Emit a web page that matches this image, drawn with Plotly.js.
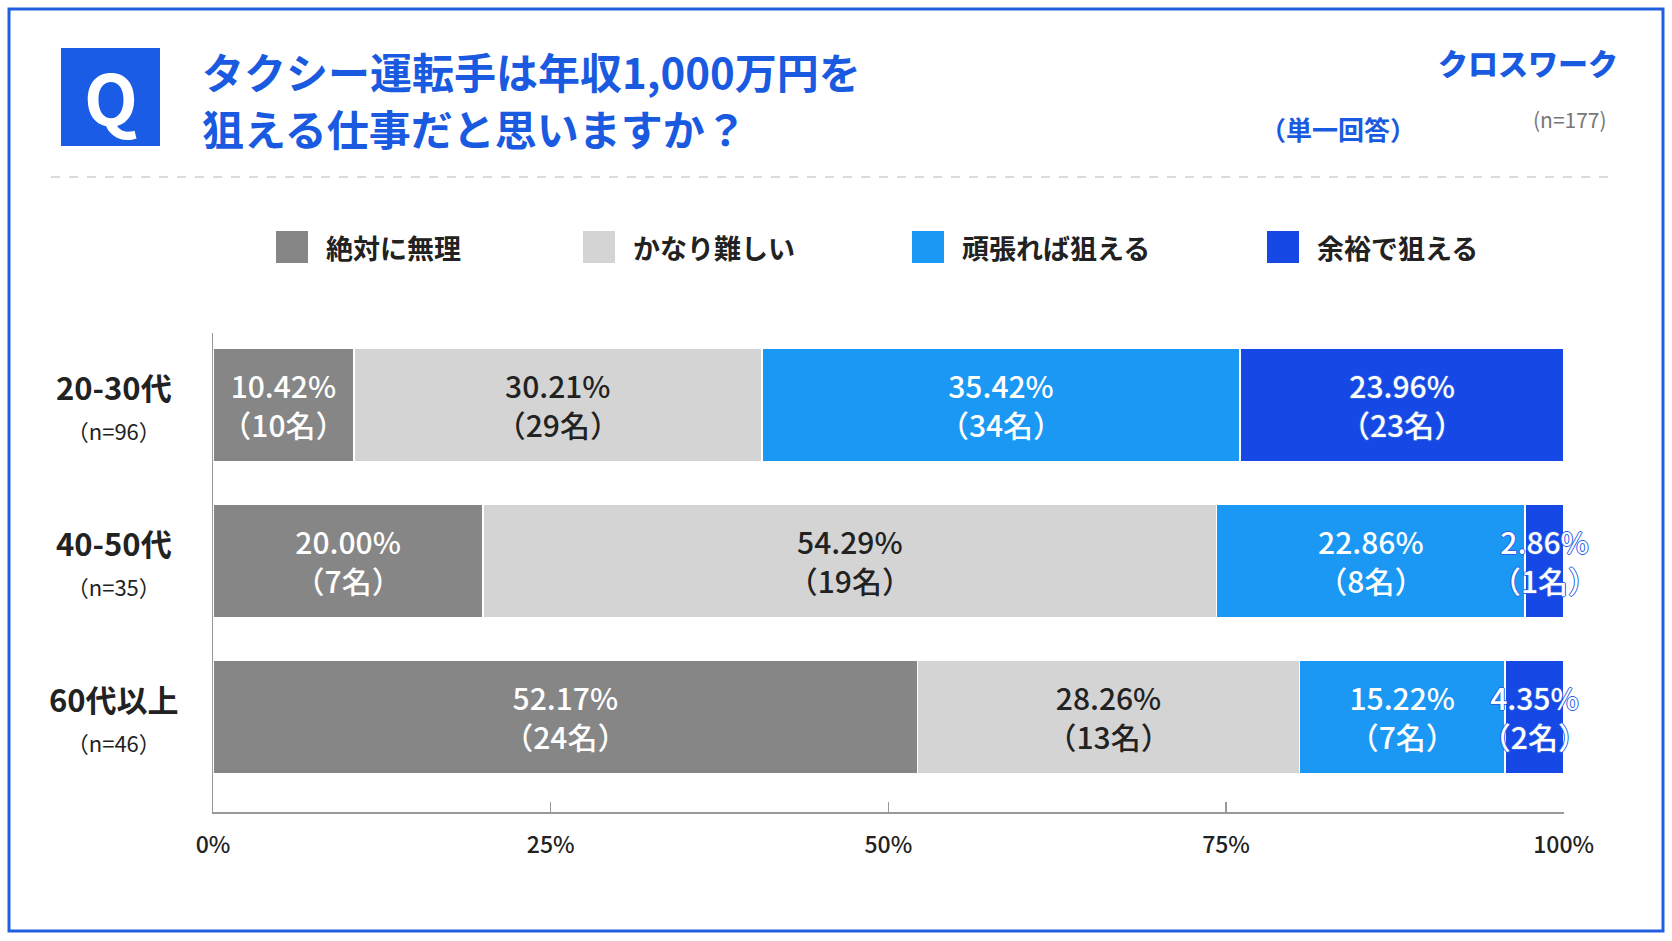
<!DOCTYPE html>
<html>
<head>
<meta charset="utf-8">
<script src="https://cdn.plot.ly/plotly-3.0.1.min.js"></script>
<style>
  html, body { margin: 0; padding: 0; background: #ffffff; }
  #chart { width: 1672px; height: 941px; }
</style>
</head>
<body>
<div id="chart"></div>
<script>
// ---- data ----
const categories = ['20-30代', '40-50代', '60代以上'];
const sampleN = [96, 35, 46];
const seriesNames = ['絶対に無理', 'かなり難しい', '頑張れば狙える', '余裕で狙える'];
const pctImpossible = [10.42, 20.00, 52.17];
const pctHard = [30.21, 54.29, 28.26];
const pctPossible = [35.42, 22.86, 15.22];
const pctEasy = [23.96, 2.86, 4.35];
const cntImpossible = [10, 7, 24];
const cntHard = [29, 19, 13];
const cntPossible = [34, 8, 7];
const cntEasy = [23, 1, 2];
const xTickVals = [0, 25, 50, 75, 100];
const xTickText = ['0%', '25%', '50%', '75%', '100%'];
const titleLines = ['タクシー運転手は年収1,000万円を', '狙える仕事だと思いますか？'];
const totalN = 177;

// ---- styling ----
const FONT = '"Noto Sans CJK JP", "Noto Sans", sans-serif';
const colors = ['#868686', '#d4d4d4', '#1b98f3', '#1548e4'];
const textColors = ['#ffffff', '#222222', '#ffffff', '#ffffff'];
const W = 1672, H = 941;
const M = {l: 213, r: 108, t: 333, b: 129};
const PW = W - M.l - M.r, PH = H - M.t - M.b;
const px = x => (x - M.l) / PW;
const py = y => (H - M.b - y) / PH;

const pctSeries = [pctImpossible, pctHard, pctPossible, pctEasy];
const cntSeries = [cntImpossible, cntHard, cntPossible, cntEasy];

const OUTLINE = '#2a5fe6';
const traces = seriesNames.map((name, i) => {
  const font = {family: FONT, size: 30, color: textColors[i], weight: 500};
  if (i === 3) font.shadow = '1px 0 0 ' + OUTLINE + ', -1px 0 0 ' + OUTLINE + ', 0 1px 0 ' + OUTLINE + ', 0 -1px 0 ' + OUTLINE;
  return {
    type: 'bar',
    orientation: 'h',
    name: name,
    y: categories,
    x: pctSeries[i],
    text: pctSeries[i].map((v, k) => v.toFixed(2) + '%<br>（' + cntSeries[i][k] + '名）'),
    textposition: 'inside',
    insidetextanchor: 'middle',
    constraintext: 'none',
    textangle: 0,
    cliponaxis: false,
    textfont: font,
    insidetextfont: font,
    marker: {color: colors[i], line: {color: '#ffffff', width: 1.5}},
    hoverinfo: 'skip',
    showlegend: false
  };
});

const annotations = [];
const shapes = [];

// outer frame
shapes.push({type: 'rect', xref: 'paper', yref: 'paper', x0: px(9), x1: px(1663), y0: py(931), y1: py(9),
  line: {color: '#2060e0', width: 3}, fillcolor: 'rgba(0,0,0,0)', layer: 'below'});
// Q box
shapes.push({type: 'rect', xref: 'paper', yref: 'paper', x0: px(61), x1: px(160), y0: py(146), y1: py(48),
  line: {width: 0}, fillcolor: '#1a5ce6'});
annotations.push({xref: 'paper', yref: 'paper', x: px(110.5), y: py(95), text: '<b>Q</b>', showarrow: false,
  font: {family: FONT, size: 70, color: '#ffffff', weight: 900}, xanchor: 'center', yanchor: 'middle'});
// title
titleLines.forEach((t, i) => {
  annotations.push({xref: 'paper', yref: 'paper', x: px(200), y: py(i === 0 ? 71 : 127), text: t, showarrow: false,
    font: {family: FONT, size: 42, color: '#1a5ae0', weight: 700}, xanchor: 'left', yanchor: 'middle'});
});
// logo and sub info
annotations.push({xref: 'paper', yref: 'paper', x: px(1620), y: py(62), text: 'クロスワーク', showarrow: false,
  font: {family: FONT, size: 30, color: '#1a5ae0', weight: 900}, xanchor: 'right', yanchor: 'middle'});
annotations.push({xref: 'paper', yref: 'paper', x: px(1338), y: py(128), text: '（単一回答）', showarrow: false,
  font: {family: FONT, size: 26, color: '#1a5ae0', weight: 700}, xanchor: 'center', yanchor: 'middle'});
annotations.push({xref: 'paper', yref: 'paper', x: px(1570), y: py(119), text: '(n=' + totalN + ')', showarrow: false,
  font: {family: FONT, size: 21, color: '#777777'}, xanchor: 'center', yanchor: 'middle'});
// dashed separator
shapes.push({type: 'line', xref: 'paper', yref: 'paper', x0: px(51), x1: px(1615), y0: py(177), y1: py(177),
  line: {color: '#cfcfcf', width: 1.5, dash: 'dash'}});

// legend (manual, larger swatches)
const legendX = [276, 583, 912, 1267];
seriesNames.forEach((name, i) => {
  shapes.push({type: 'rect', xref: 'paper', yref: 'paper', x0: px(legendX[i]), x1: px(legendX[i] + 32),
    y0: py(263), y1: py(231), line: {width: 0}, fillcolor: colors[i]});
  annotations.push({xref: 'paper', yref: 'paper', x: px(legendX[i] + 48), y: py(247), text: name, showarrow: false,
    font: {family: FONT, size: 27, color: '#222222', weight: 700}, xanchor: 'left', yanchor: 'middle'});
});

// category labels
categories.forEach((c, i) => {
  annotations.push({xref: 'paper', yref: 'y', x: px(114), y: c,
    text: '<b>' + c + '</b><br><span style="font-size:22px;">（n=' + sampleN[i] + '）</span>',
    showarrow: false, align: 'center', xanchor: 'center', yanchor: 'middle',
    font: {family: FONT, size: 31, color: '#222222'}});
});

const layout = {
  width: W, height: H,
  margin: M,
  paper_bgcolor: '#ffffff',
  plot_bgcolor: '#ffffff',
  barmode: 'stack',
  bargap: 0.275,
  showlegend: false,
  font: {family: FONT, color: '#222222'},
  xaxis: {
    range: [0, 100.02],
    tickvals: xTickVals,
    ticktext: xTickText,
    ticks: 'inside',
    ticklen: 10,
    tickcolor: '#999999',
    tickwidth: 1.5,
    showgrid: false,
    zeroline: false,
    showline: true,
    linecolor: '#999999',
    linewidth: 1.5,
    ticklabelstandoff: 12,
    tickfont: {family: FONT, size: 23, color: '#222222', weight: 500},
    fixedrange: true
  },
  yaxis: {
    type: 'category',
    categoryorder: 'array',
    categoryarray: categories,
    range: [2.61, -0.46],
    showticklabels: false,
    ticks: '',
    showgrid: false,
    zeroline: false,
    showline: true,
    linecolor: '#999999',
    linewidth: 1.5,
    fixedrange: true
  },
  shapes: shapes,
  annotations: annotations
};

Plotly.newPlot('chart', traces, layout, {displayModeBar: false, staticPlot: true});
</script>
</body>
</html>
